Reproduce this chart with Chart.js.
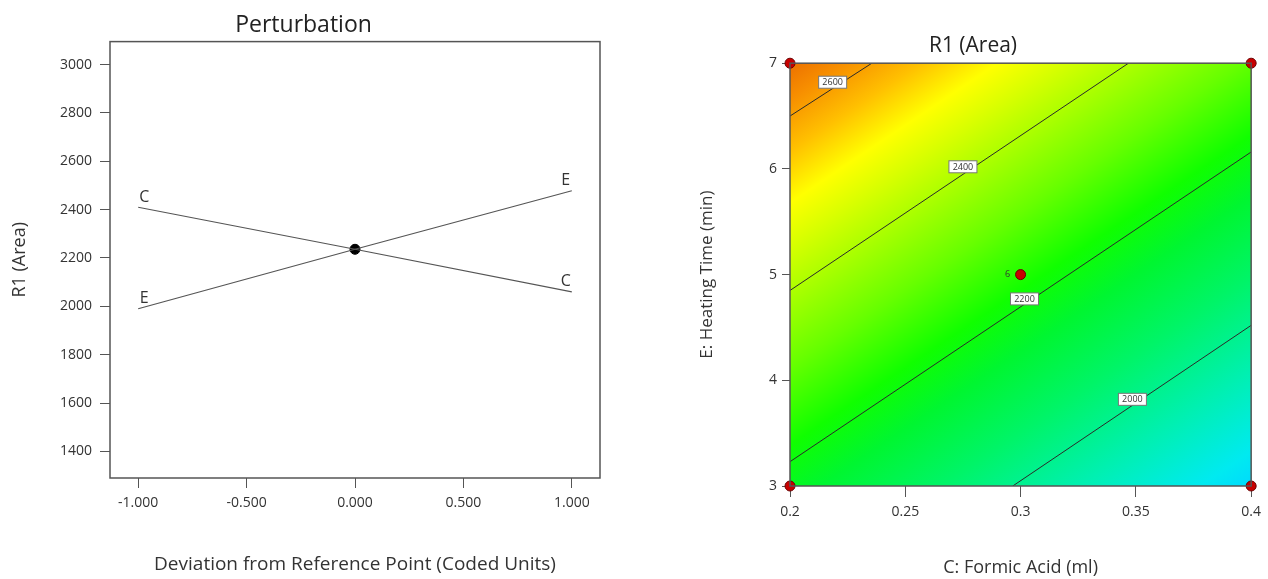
<!DOCTYPE html>
<html>
<head>
<meta charset="utf-8">
<script src="https://cdn.jsdelivr.net/npm/chart.js@4.4.1/dist/chart.umd.min.js"></script>
<style>
    html, body { margin: 0; padding: 0; background: #fff; }
    #izq { position: absolute; left: 0; top: 0; }
    #der { position: absolute; left: 640px; top: 0; }
</style>
</head>
<body>
<canvas id="izq" width="640" height="579"></canvas>
<canvas id="der" width="628" height="579"></canvas>
<script>
// Datos del gráfico de perturbación (unidades codificadas).
const desviaciones = [-1, 0, 1];
const serieC = [2410, 2236, 2060];
const serieE = [1990, 2236, 2478];
const puntoReferencia = [2236];
const ticksX1 = [-1, -0.5, 0, 0.5, 1];
const ticksY1 = [1400, 1600, 1800, 2000, 2200, 2400, 2600, 2800, 3000];

// Datos del gráfico de contorno R1 (Area).
const nivelesContorno = [2600, 2400, 2200, 2000];
const linea2600 = [[0.2, 6.5], [0.2355, 7]];
const linea2400 = [[0.2, 4.85], [0.3468, 7]];
const linea2200 = [[0.2, 3.23], [0.4, 6.16]];
const linea2000 = [[0.2966, 3], [0.4, 4.52]];
const etiquetasContorno = [[0.2185, 6.82], [0.275, 6.02], [0.3017, 4.77], [0.3485, 3.82]];
const puntosDiseno = [[0.2, 7], [0.4, 7], [0.2, 3], [0.4, 3], [0.3, 5]];
const repeticionesCentro = '6';
const ticksX2 = [0.2, 0.25, 0.3, 0.35, 0.4];
const ticksY2 = [3, 4, 5, 6, 7];
// Escala de colores según el valor de la respuesta.
const nivelesColor = [2670, 2620, 2560, 2500, 2450, 2310, 2220, 2150, 2055, 1950, 1855, 1810];
const coloresNivel = ['#ea6a00', '#f78e00', '#ffc000', '#ffff00', '#d8ff00', '#66ff00',
    '#10ff00', '#00f630', '#00f468', '#00f0b0', '#00eaf0', '#00d8ff'];

const FUENTE = '"Open Sans", "DejaVu Sans", sans-serif';
Chart.defaults.font.family = FUENTE;
Chart.defaults.color = '#333';

const aPuntos = pares => pares.map(p => ({ x: p[0], y: p[1] }));

// Marco completo alrededor del área del gráfico.
const marco = {
    id: 'marco',
    afterDraw(chart) {
        const { ctx, chartArea: a } = chart;
        ctx.save();
        ctx.strokeStyle = '#555';
        ctx.lineWidth = 1.5;
        ctx.strokeRect(a.left, a.top, a.width, a.height);
        ctx.restore();
    }
};

// Letras C y E en los extremos de cada línea.
const letrasFactores = {
    id: 'letrasFactores',
    afterDatasetsDraw(chart) {
        const { ctx } = chart;
        ctx.save();
        ctx.font = '16px ' + FUENTE;
        ctx.fillStyle = '#333';
        ctx.textAlign = 'center';
        ctx.textBaseline = 'bottom';
        [0, 1].forEach(i => {
            const meta = chart.getDatasetMeta(i);
            const letra = chart.data.datasets[i].label;
            const ini = meta.data[0];
            const fin = meta.data[meta.data.length - 1];
            ctx.fillText(letra, ini.x + 6, ini.y - 2);
            ctx.fillText(letra, fin.x - 6, fin.y - 2);
        });
        ctx.restore();
    }
};

new Chart(document.getElementById('izq'), {
    type: 'scatter',
    data: {
        datasets: [{
            label: 'C',
            data: desviaciones.map((d, i) => ({ x: d, y: serieC[i] })),
            showLine: true,
            borderColor: '#555',
            borderWidth: 1.2,
            pointRadius: 0
        }, {
            label: 'E',
            data: desviaciones.map((d, i) => ({ x: d, y: serieE[i] })),
            showLine: true,
            borderColor: '#555',
            borderWidth: 1.2,
            pointRadius: 0
        }, {
            label: 'Referencia',
            data: [{ x: 0, y: puntoReferencia[0] }],
            pointRadius: 5,
            backgroundColor: '#000',
            borderColor: '#000'
        }]
    },
    options: {
        responsive: false,
        animation: false,
        layout: { padding: { left: 7, right: 40, top: 0, bottom: 0 } },
        plugins: {
            legend: { display: false },
            tooltip: { enabled: false },
            title: {
                display: true,
                text: 'Perturbation',
                color: '#222',
                font: { size: 23, weight: 'normal' },
                padding: { top: 12, bottom: 2 }
            }
        },
        scales: {
            x: {
                type: 'linear',
                min: -1.13,
                max: 1.13,
                afterBuildTicks: s => { s.ticks = ticksX1.map(v => ({ value: v })); },
                afterFit: s => { s.height = 101; },
                ticks: { font: { size: 14 }, padding: 7, maxRotation: 0, callback: v => v.toFixed(3) },
                grid: { drawOnChartArea: false, tickLength: 10, color: '#555' },
                border: { display: false },
                title: {
                    display: true,
                    text: 'Deviation from Reference Point (Coded Units)',
                    font: { size: 19 },
                    padding: { top: 4, bottom: 3 }
                }
            },
            y: {
                min: 1290,
                max: 3095,
                afterBuildTicks: s => { s.ticks = ticksY1.map(v => ({ value: v })); },
                afterFit: s => { s.width = 103; },
                ticks: { font: { size: 14 }, padding: 8, callback: v => String(v) },
                grid: { drawOnChartArea: false, tickLength: 10, color: '#555' },
                border: { display: false },
                title: {
                    display: true,
                    text: 'R1 (Area)',
                    font: { size: 18 },
                    padding: { top: 2, bottom: 4 }
                }
            }
        }
    },
    plugins: [marco, letrasFactores]
});

// Fondo degradado perpendicular a las curvas de nivel.
const fondoDegradado = {
    id: 'fondoDegradado',
    beforeDatasetsDraw(chart) {
        const { ctx, chartArea: a, scales: { x, y } } = chart;
        const px = p => ({ x: x.getPixelForValue(p[0]), y: y.getPixelForValue(p[1]) });
        const p0 = px(linea2400[0]);
        const p1 = px(linea2400[1]);
        let nx = -(p1.y - p0.y);
        let ny = p1.x - p0.x;
        const largo = Math.hypot(nx, ny);
        nx /= largo;
        ny /= largo;
        const proy = p => (p.x - a.left) * nx + (p.y - a.top) * ny;
        const t1 = proy(px(linea2600[0]));
        const t2 = proy(px(linea2000[0]));
        const v1 = nivelesContorno[0];
        const v2 = nivelesContorno[nivelesContorno.length - 1];
        const tDe = v => t1 + (v - v1) * (t2 - t1) / (v2 - v1);
        const ta = tDe(nivelesColor[0]);
        const tb = tDe(nivelesColor[nivelesColor.length - 1]);
        const grad = ctx.createLinearGradient(a.left + nx * ta, a.top + ny * ta, a.left + nx * tb, a.top + ny * tb);
        nivelesColor.forEach((v, i) => {
            grad.addColorStop(Math.min(1, Math.max(0, (tDe(v) - ta) / (tb - ta))), coloresNivel[i]);
        });
        ctx.save();
        ctx.fillStyle = grad;
        ctx.fillRect(a.left, a.top, a.width, a.height);
        ctx.restore();
    }
};

// Etiquetas de las curvas de nivel y número de réplicas del punto central.
const etiquetas = {
    id: 'etiquetas',
    afterDatasetsDraw(chart) {
        const { ctx, scales: { x, y } } = chart;
        ctx.save();
        ctx.font = '9px ' + FUENTE;
        ctx.textAlign = 'center';
        ctx.textBaseline = 'middle';
        etiquetasContorno.forEach((p, i) => {
            const cx = x.getPixelForValue(p[0]);
            const cy = y.getPixelForValue(p[1]);
            ctx.fillStyle = '#fff';
            ctx.fillRect(cx - 14, cy - 6, 28, 12);
            ctx.strokeStyle = '#777';
            ctx.lineWidth = 1;
            ctx.strokeRect(cx - 14, cy - 6, 28, 12);
            ctx.fillStyle = '#333';
            ctx.fillText(String(nivelesContorno[i]), cx, cy + 0.5);
        });
        const centro = puntosDiseno[puntosDiseno.length - 1];
        ctx.font = '9px ' + FUENTE;
        ctx.fillStyle = '#333';
        ctx.fillText(repeticionesCentro, x.getPixelForValue(centro[0]) - 13, y.getPixelForValue(centro[1]));
        ctx.restore();
    }
};

const lineaContorno = datos => ({
    data: aPuntos(datos),
    showLine: true,
    borderColor: '#2a2a2a',
    borderWidth: 1,
    pointRadius: 0
});

new Chart(document.getElementById('der'), {
    type: 'scatter',
    data: {
        datasets: [{
            data: aPuntos(puntosDiseno),
            pointRadius: 5,
            backgroundColor: '#c80000',
            borderColor: '#6a0000',
            borderWidth: 1,
            clip: false
        },
        lineaContorno(linea2600),
        lineaContorno(linea2400),
        lineaContorno(linea2200),
        lineaContorno(linea2000)]
    },
    options: {
        responsive: false,
        animation: false,
        layout: { padding: { left: 50, right: 12, top: 0, bottom: 0 } },
        plugins: {
            legend: { display: false },
            tooltip: { enabled: false },
            title: {
                display: true,
                text: 'R1 (Area)',
                color: '#222',
                font: { size: 21, weight: 'normal' },
                padding: { top: 33, bottom: 5 }
            }
        },
        scales: {
            x: {
                type: 'linear',
                min: 0.2,
                max: 0.4,
                afterBuildTicks: s => { s.ticks = ticksX2.map(v => ({ value: v })); },
                afterFit: s => { s.height = 93; },
                ticks: { font: { size: 14 }, padding: 7, maxRotation: 0, callback: v => String(v) },
                grid: { drawOnChartArea: false, tickLength: 11, color: '#555' },
                border: { display: false },
                title: {
                    display: true,
                    text: 'C: Formic Acid (ml)',
                    font: { size: 18 },
                    padding: { top: 4, bottom: 0 }
                }
            },
            y: {
                min: 3,
                max: 7,
                afterBuildTicks: s => { s.ticks = ticksY2.map(v => ({ value: v })); },
                afterFit: s => { s.width = 100; },
                ticks: { font: { size: 14 }, padding: 5 },
                grid: { drawOnChartArea: false, tickLength: 8, color: '#555' },
                border: { display: false },
                title: {
                    display: true,
                    text: 'E: Heating Time (min)',
                    font: { size: 17 },
                    padding: { top: 7, bottom: 4 }
                }
            }
        }
    },
    plugins: [fondoDegradado, marco, etiquetas]
});
</script>
</body>
</html>
